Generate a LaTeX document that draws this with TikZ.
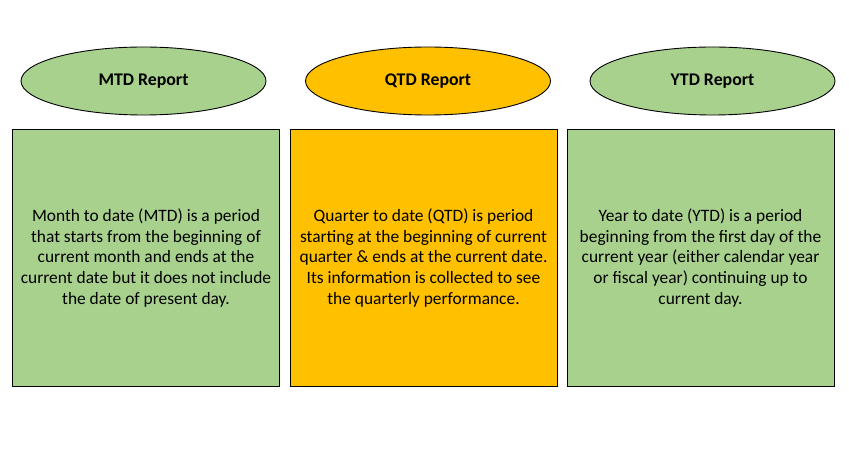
\documentclass[tikz,border=0pt]{standalone}
\usepackage{fontspec}
\setmainfont{Carlito}
\usetikzlibrary{shapes.geometric}
\definecolor{boxgreen}{HTML}{A9D18E}
\definecolor{boxorange}{HTML}{FFC000}
\begin{document}
\begin{tikzpicture}[x=1pt,y=-1pt,
  titleell/.style={ellipse,draw=black,line width=0.9pt,minimum width=245pt,minimum height=68pt,inner sep=0pt,font=\fontsize{17.8}{21}\selectfont\bfseries},
  infobox/.style={draw=black,line width=1pt,minimum width=267pt,minimum height=257pt,inner sep=0pt,anchor=north west},
  infotext/.style={align=center,font=\fontsize{17.4}{20.75}\selectfont}]
\useasboundingbox (0,0) rectangle (849,462);
\node[titleell,fill=boxgreen] (mtd) at (143.5,81) {MTD Report};
\node[titleell,fill=boxorange] (qtd) at (428,81) {QTD Report};
\node[titleell,fill=boxgreen] (ytd) at (712.5,81) {YTD Report};
\node[infobox,fill=boxgreen] (b1) at (12,129) {};
\node[infobox,fill=boxorange] (b2) at (289.5,129) {};
\node[infobox,fill=boxgreen] (b3) at (566.5,129) {};
\node[infotext] (t1) at (b1.center) {Month to date (MTD) is a period\\that starts from the beginning of\\current month and ends at the\\current date but it does not include\\the date of present day.};
\node[infotext] (t2) at (b2.center) {Quarter to date (QTD) is period\\starting at the beginning of current\\quarter \& ends at the current date.\\Its information is collected to see\\the quarterly performance.};
\node[infotext] (t3) at (b3.center) {Year to date (YTD) is a period\\beginning from the first day of the\\current year (either calendar year\\or fiscal year) continuing up to\\current day.};
\end{tikzpicture}
\end{document}
